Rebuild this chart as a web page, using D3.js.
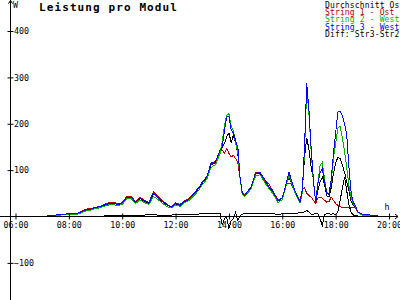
<!DOCTYPE html>
<html>
<head>
<meta charset="utf-8">
<script src="https://cdn.jsdelivr.net/npm/d3@7"></script>
<style>
  html, body { margin: 0; padding: 0; background: #fff; }
  svg { display: block; font-family: "DejaVu Sans Mono", monospace; }
</style>
</head>
<body>
<div id="chart"></div>
<script>
// --- data (W per module) ---
const times = ["07:00","07:10","07:20","07:30","07:40","07:50","08:00","08:10","08:20","08:30",
  "08:40","08:50","09:00","09:10","09:20","09:30","09:40","09:50","10:00","10:10",
  "10:20","10:30","10:40","10:50","11:00","11:10","11:20","11:30","11:40","11:50",
  "12:00","12:10","12:20","12:30","12:40","12:50","13:00","13:10","13:20","13:30",
  "13:40","13:45","13:50","13:55","14:00","14:05","14:10","14:15","14:20","14:25",
  "14:30","14:35","14:40","14:50","15:00","15:10","15:20","15:30","15:40","15:50",
  "16:00","16:10","16:15","16:20","16:30","16:40","16:45","16:50","16:55","17:00",
  "17:05","17:10","17:15","17:20","17:25","17:30","17:35","17:40","17:45","17:50",
  "17:55","18:00","18:05","18:10","18:15","18:20","18:25","18:30","18:35","18:40",
  "18:45","18:50","19:00","19:10","19:20","19:30","19:40"];

const avgOst = [0,1,2,3,4,4,5,5,6,11,14,15,19,21,24,28,29,25,28,41,
  42,30,39,33,28,49,41,32,25,20,27,24,32,36,47,58,72,84,111,116,
  140,148,158,172,180,160,175,158,135,82,50,45,50,62,92,93,77,63,51,33,
  39,73,85,74,50,31,56,128,169,145,105,80,30,55,75,85,70,45,42,62,
  92,115,128,125,112,95,75,55,32,24,19,9,3,2,2,1,0];

const string1 = [0,1,2,3,4,5,5,6,7,12,16,17,20,22,26,30,31,27,30,43,
  44,32,41,35,30,53,44,34,27,21,29,26,34,38,49,60,73,86,113,118,
  140,143,136,147,136,128,132,125,117,82,52,46,52,64,95,96,78,70,53,36,
  40,72,71,70,52,33,58,62,50,45,42,35,28,40,42,39,35,31,32,42,
  35,28,24,21,20,20,20,20,20,20,18,10,3,2,2,1,0];

const string2 = [0,0,1,2,3,4,4,5,5,9,12,14,17,19,22,25,26,23,26,38,
  39,28,36,30,26,43,37,29,22,18,25,22,30,34,44,54,68,80,106,112,
  136,162,197,218,222,195,185,158,140,82,48,43,48,60,88,90,74,60,48,30,
  36,72,88,76,48,29,52,140,277,220,140,75,31,72,110,117,80,52,50,75,
  125,158,190,195,170,140,105,65,40,28,20,9,3,2,2,1,0];

const string3 = [0,1,2,3,5,5,6,6,7,11,15,16,20,21,25,28,29,26,29,41,
  42,31,40,34,29,50,41,33,26,20,28,24,33,37,48,59,74,86,115,119,
  143,150,186,214,216,186,180,164,150,85,52,45,52,64,93,95,80,64,52,34,
  40,75,96,80,52,31,55,150,287,230,145,80,31,70,95,104,75,50,48,80,
  135,180,225,227,218,200,175,105,50,30,22,10,5,4,3,2,0];

const diffStr = [0,0,0,0,0,0,0,0,1,1,1,1,1,1,1,3,3,3,3,3,
  3,3,3,3,4,4,3,3,3,3,4,4,4,5,5,5,6,6,7,7,
  6,-19,-4,-2,-26,-9,-5,9,-9,2,5,6,6,6,6,6,7,7,6,4,
  6,6,7,6,7,8,8,10,13,10,5,5,6,6,-5,-19,4,6,6,5,
  6,4,10,35,60,85,55,25,8,3,2,1,1,0,0,0,0];

const yTicks = [400, 300, 200, 100, -100];
const xTicks = ["06:00","08:00","10:00","12:00","14:00","16:00","18:00","20:00"];

const seriesNames = ["Durchschnitt Ost", "String 1 - Ost", "String 2 - West", "String 3 - West", "Diff: Str3-Str2"];
const seriesColors = ["#000000", "#b00000", "#00b000", "#0000ff", "#000000"];
const seriesValues = [avgOst, string1, string2, string3, diffStr];

// --- layout ---
const W = 400, H = 300;
const parse = d3.timeParse("%H:%M");
const fmt = d3.timeFormat("%H:%M");

const x = d3.scaleTime().domain([parse("06:00"), parse("20:00")]).range([15.5, 389]);
const y = d3.scaleLinear().domain([0, 400]).range([216.5, 31]);

const svg = d3.select("#chart").append("svg")
  .attr("width", W).attr("height", H);

svg.append("rect").attr("width", W).attr("height", H).attr("fill", "#fff");

// series (drawn in legend order)
const line = d3.line()
  .x((d, i) => x(parse(times[i])))
  .y(d => y(d));

seriesValues.forEach((vals, k) => {
  svg.append("path")
    .datum(vals)
    .attr("d", line)
    .attr("fill", "none")
    .attr("stroke", seriesColors[k])
    .attr("stroke-width", 1)
    .attr("shape-rendering", "crispEdges");
});

// --- axes ---
const axisY = 10.5, axisX = y(0);

const gx = svg.append("g")
  .attr("transform", `translate(0,${axisX})`)
  .call(d3.axisBottom(x)
    .tickValues(xTicks.map(parse))
    .tickFormat(fmt)
    .tickSizeOuter(0));
gx.select(".domain").remove();
gx.selectAll(".tick line").attr("y1", -3).attr("y2", 3).attr("stroke", "#000");
gx.selectAll(".tick text").attr("y", 6).attr("dy", "0.71em")
  .attr("font-size", "8.3px").attr("font-family", "DejaVu Sans Mono").attr("fill", "#000");

const gy = svg.append("g")
  .attr("transform", `translate(${axisY},0)`)
  .call(d3.axisRight(y).tickValues(yTicks).tickSizeOuter(0));
gy.select(".domain").remove();
gy.selectAll(".tick line").attr("x1", -3).attr("x2", 3).attr("stroke", "#000");
gy.selectAll(".tick text").attr("x", 3.5).attr("dy", "0.34em")
  .attr("font-size", "8.3px").attr("font-family", "DejaVu Sans Mono").attr("fill", "#000");

// axis lines with arrows
svg.append("line").attr("x1", 0).attr("x2", 398).attr("y1", axisX).attr("y2", axisX)
  .attr("stroke", "#000").attr("shape-rendering", "crispEdges");
svg.append("line").attr("x1", axisY).attr("x2", axisY).attr("y1", 0).attr("y2", H)
  .attr("stroke", "#000").attr("shape-rendering", "crispEdges");
svg.append("path").attr("d", `M${axisY - 2},3.5 L${axisY},0.5 L${axisY + 2},3.5`)
  .attr("fill", "none").attr("stroke", "#000");
svg.append("path").attr("d", `M395,${axisX - 2.5} L398,${axisX} L395,${axisX + 2.5}`)
  .attr("fill", "none").attr("stroke", "#000");

svg.append("text").attr("x", 13).attr("y", 7.5).text("W")
  .attr("font-size", "8.3px").attr("fill", "#000");
svg.append("text").attr("x", 384.5).attr("y", 209.5).text("h")
  .attr("font-size", "8.3px").attr("fill", "#000");

// title
svg.append("text").attr("x", 39).attr("y", 10.5)
  .text("Leistung pro Modul")
  .attr("font-size", "11px").attr("font-weight", "bold")
  .attr("letter-spacing", "1.1px").attr("fill", "#000");

// legend
const legend = svg.append("g").attr("transform", "translate(325,0)");
legend.selectAll("text")
  .data(seriesNames)
  .enter()
  .append("text")
  .attr("x", 0)
  .attr("y", (d, i) => 7.5 + i * 7.4)
  .attr("font-size", "8px")
  .attr("letter-spacing", "0.15px")
  .attr("fill", (d, i) => seriesColors[i])
  .text(d => d);
</script>
</body>
</html>
